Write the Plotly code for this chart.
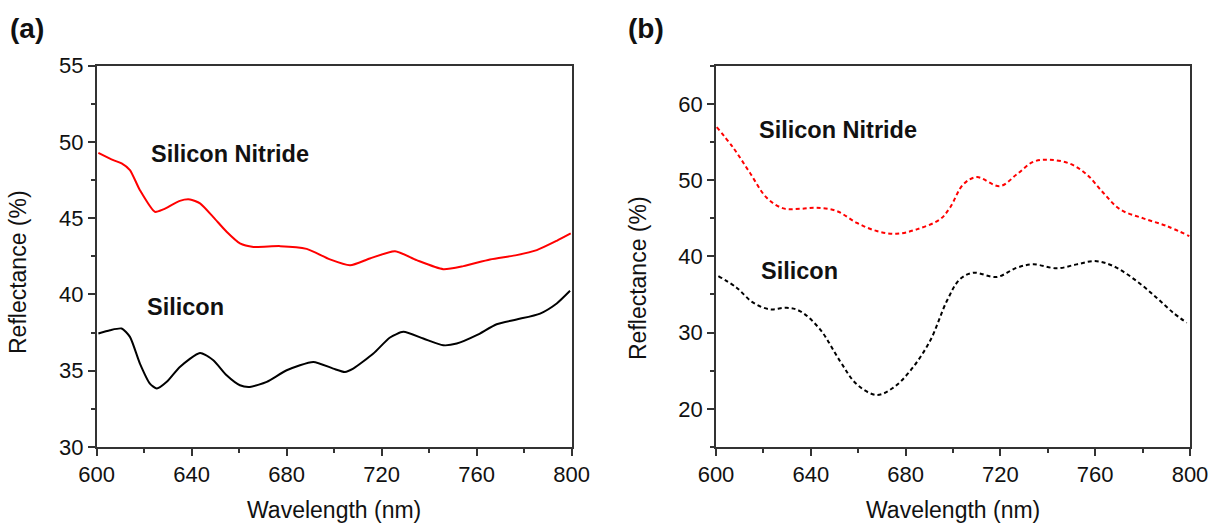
import plotly.graph_objects as go

# Panel (a): measured reflectance spectra
wl_a_sin = [600.7, 607, 610.5, 614, 618.2, 624.5, 628, 635, 639.3, 643.5, 649, 654.7,
            660.3, 666, 677.2, 688.4, 698.2, 706.7, 715, 725.6, 734.7, 745.9, 754.4,
            765.6, 776.8, 785.3, 793.7, 799.6]
r_a_sin = [49.29, 48.81, 48.6, 48.16, 46.84, 45.42, 45.58, 46.14, 46.23, 45.97, 45.09, 44.11,
           43.35, 43.12, 43.17, 42.99, 42.30, 41.92, 42.36, 42.84, 42.25, 41.66, 41.86,
           42.30, 42.58, 42.91, 43.52, 44.0]

wl_a_si = [600.7, 605.6, 610.5, 614, 618.2, 622.4, 625.3, 629.5, 635, 643.5, 649.1, 654.7,
           660.3, 664.5, 671.6, 680, 691.2, 699.6, 704.5, 708, 716.5, 723.5, 729.1, 737.5,
           745.9, 751.6, 760, 768.4, 776.8, 786.7, 793.7, 799.3]
r_a_si = [37.44, 37.66, 37.77, 37.22, 35.47, 34.16, 33.83, 34.27, 35.25, 36.17, 35.69, 34.70,
          34.05, 33.94, 34.27, 35.03, 35.58, 35.14, 34.92, 35.14, 36.13, 37.18, 37.55, 37.11,
          36.67, 36.78, 37.33, 38.05, 38.36, 38.75, 39.41, 40.24]

# Panel (b): simulated reflectance spectra
wl_b_sin = [600.3, 607.3, 614.3, 621.4, 628.4, 635.4, 642.5, 650.9, 659.4, 667.8, 676.2,
            684.7, 694.5, 698.7, 704.3, 710, 719.8, 726.9, 733.9, 740.9, 749.4, 756.4,
            763.4, 770.5, 780.3, 790.2, 799.7]
r_b_sin = [56.95, 54.23, 50.96, 47.68, 46.29, 46.24, 46.37, 45.94, 44.40, 43.32, 42.96,
           43.54, 44.85, 46.37, 49.43, 50.39, 49.21, 50.75, 52.40, 52.66, 52.14, 50.75,
           48.34, 46.16, 44.98, 43.97, 42.66]

wl_b_si = [601, 608.7, 615.7, 622.8, 629.8, 635.4, 643.9, 652.3, 659.4, 667.8, 674.8,
           681.9, 690.3, 697.4, 702.9, 708.6, 718.4, 726.9, 733.9, 743.8, 752.2, 759.9,
           767.6, 777.5, 785.9, 792.9, 798.6]
r_b_si = [37.42, 35.89, 33.92, 33.05, 33.26, 32.83, 30.43, 26.28, 23.22, 21.82, 22.78,
          24.97, 28.90, 34.14, 36.99, 37.85, 37.29, 38.51, 38.95, 38.43, 38.95, 39.38,
          38.73, 36.76, 34.57, 32.61, 31.30]

x_ticks = [600, 640, 680, 720, 760, 800]
y_ticks_a = [30, 35, 40, 45, 50, 55]
y_ticks_b = [20, 30, 40, 50, 60]

RED = "#ff0000"
BLACK = "#000000"
AXIS = "#333333"
FONT = "Liberation Sans, Arial, sans-serif"

fig = go.Figure()

fig.add_trace(go.Scatter(x=wl_a_sin, y=r_a_sin, mode="lines",
                         line=dict(color=RED, width=2, shape="spline", smoothing=0.6),
                         xaxis="x", yaxis="y", showlegend=False))
fig.add_trace(go.Scatter(x=wl_a_si, y=r_a_si, mode="lines",
                         line=dict(color=BLACK, width=2, shape="spline", smoothing=0.6),
                         xaxis="x", yaxis="y", showlegend=False))
fig.add_trace(go.Scatter(x=wl_b_sin, y=r_b_sin, mode="lines",
                         line=dict(color=RED, width=2, dash="4px,3px", shape="spline", smoothing=1.0),
                         xaxis="x2", yaxis="y2", showlegend=False))
fig.add_trace(go.Scatter(x=wl_b_si, y=r_b_si, mode="lines",
                         line=dict(color=BLACK, width=2, dash="4px,3px", shape="spline", smoothing=1.0),
                         xaxis="x2", yaxis="y2", showlegend=False))

W, H = 1223, 525
ax_top, ax_bot = 65.7, 447.0
y_dom = [1 - ax_bot / H, 1 - ax_top / H]
xa_dom = [96.7 / W, 571.7 / W]
xb_dom = [716.0 / W, 1190.0 / W]

common_x = dict(
    range=[600, 800], tickvals=x_ticks, ticks="outside", ticklen=7, tickwidth=1.5,
    tickcolor=AXIS, showline=True, linecolor=AXIS, linewidth=1.5, mirror=True,
    showgrid=False, zeroline=False, automargin=False,
    tickfont=dict(family=FONT, size=22, color="#111"),
    minor=dict(ticks="outside", ticklen=4, tickwidth=1.5, tickcolor=AXIS, dtick=20,
               tick0=600, showgrid=False),
    fixedrange=True,
)
common_y = dict(
    ticks="outside", ticklen=7, tickwidth=1.5, tickcolor=AXIS, showline=True,
    linecolor=AXIS, linewidth=1.5, mirror=True, showgrid=False, zeroline=False,
    automargin=False, tickfont=dict(family=FONT, size=22, color="#111"),
    domain=y_dom, fixedrange=True,
)

fig.update_layout(
    width=W, height=H,
    margin=dict(l=0, r=0, t=0, b=0, pad=0),
    paper_bgcolor="white", plot_bgcolor="white",
    font=dict(family=FONT, color="#111"),
    xaxis=dict(domain=xa_dom, anchor="y", **common_x),
    xaxis2=dict(domain=xb_dom, anchor="y2", **common_x),
    yaxis=dict(anchor="x", range=[30, 55], tickvals=y_ticks_a,
               minor=dict(ticks="outside", ticklen=4, tickwidth=1.5, tickcolor=AXIS,
                          dtick=2.5, tick0=30, showgrid=False),
               **common_y),
    yaxis2=dict(anchor="x2", range=[15, 65], tickvals=y_ticks_b,
                minor=dict(ticks="outside", ticklen=4, tickwidth=1.5, tickcolor=AXIS,
                           dtick=5, tick0=15, showgrid=False),
                **common_y),
)


def px_ann(x, y, text, size, bold=False, angle=0, xanchor="center"):
    fig.add_annotation(
        x=x / W, y=1 - y / H, xref="paper", yref="paper",
        text=f"<b>{text}</b>" if bold else text,
        showarrow=False, xanchor=xanchor, yanchor="middle", textangle=angle,
        font=dict(family=FONT, size=size, color="#111"),
    )


# panel letters
px_ann(27, 29, "(a)", 28, bold=True)
px_ann(646, 29, "(b)", 28, bold=True)

# axis titles
px_ann(334, 510, "Wavelength (nm)", 23)
px_ann(953, 510, "Wavelength (nm)", 23)
px_ann(18, 272, "Reflectance (%)", 23, angle=-90)
px_ann(638, 278, "Reflectance (%)", 23, angle=-90)

# curve labels
px_ann(230, 154, "Silicon Nitride", 23.5, bold=True)
px_ann(185, 307, "Silicon", 23.5, bold=True)
px_ann(838, 130, "Silicon Nitride", 23.5, bold=True)
px_ann(799, 271, "Silicon", 23.5, bold=True)

fig.write_html("out.html")
